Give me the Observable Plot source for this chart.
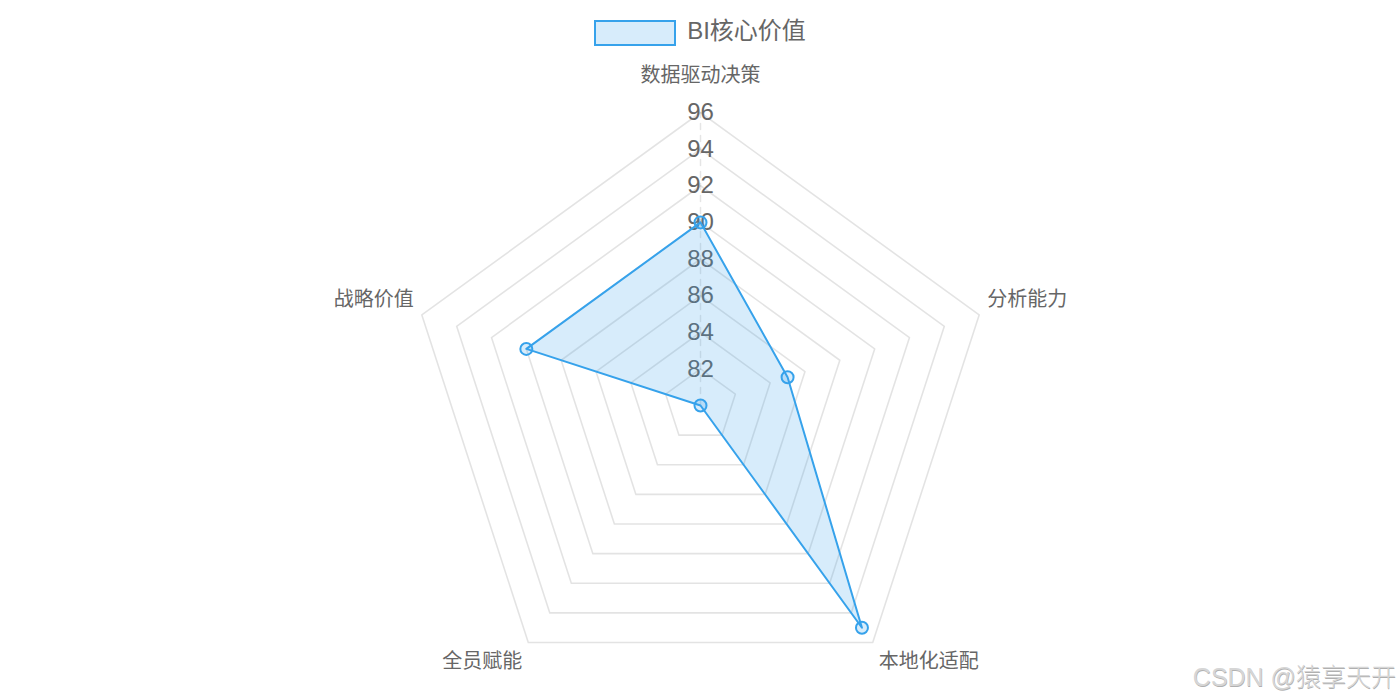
<!DOCTYPE html>
<html>
<head>
<meta charset="utf-8">
<script src="https://cdn.jsdelivr.net/npm/d3@7"></script>
<script src="https://cdn.jsdelivr.net/npm/@observablehq/plot@0.6"></script>
<style>
  html, body { margin: 0; padding: 0; background: #fff; }
  body { width: 1400px; height: 700px; position: relative; overflow: hidden;
         font-family: "Liberation Sans", Arial, "Noto Sans CJK SC", sans-serif; }
  #legend { height: 52px; display: flex; justify-content: center; align-items: flex-start; }
  #legend .box { width: 78px; height: 22px; margin-top: 20px; border: 2px solid rgb(54,162,235);
                 background: rgba(54,162,235,0.2); box-sizing: content-box; }
  #legend .lab { font-size: 24px; color: #666; margin-left: 11px; margin-top: 16px; line-height: 30px; }
  #wm { position: absolute; right: 4px; top: 657px; font-size: 25px; color: #d6d6d6;
        text-shadow: 0.5px 0.5px 0.5px #b0b0b0; font-weight: 300;
        font-family: "Liberation Sans", Arial, "Noto Sans CJK SC", sans-serif; }
</style>
</head>
<body>
<div id="legend"></div>
<div id="chart"></div>
<div id="wm"></div>
<script>
// ---- data ----
const seriesName = "BI核心价值";
const categories = ["数据驱动决策", "分析能力", "本地化适配", "全员赋能", "战略价值"];
const values = [90, 85, 95, 80, 90];
const ticks = [82, 84, 86, 88, 90, 92, 94, 96];
const scaleMin = 80, scaleMax = 96;
const watermark = "CSDN @猿享天开";

// ---- layout ----
const W = 1400, H = 648;
const R = 293, cx = 700, cy = 353;
const blue = "rgb(54,162,235)";
const fillBlue = "rgba(54,162,235,0.2)";
const n = categories.length;
const ang = i => (2 * Math.PI * i) / n;
const norm = v => (v - scaleMin) / (scaleMax - scaleMin);
const px = (v, i) => norm(v) * Math.sin(ang(i));
const py = (v, i) => -norm(v) * Math.cos(ang(i));

// rings
const rings = [];
for (const t of ticks) for (let i = 0; i < n; i++) rings.push({t, x: px(t, i), y: py(t, i)});
// data polygon
const pts = values.map((v, i) => ({cat: categories[i], v, x: px(v, i), y: py(v, i)}));
// tick labels
const tickRows = ticks.map(t => ({t, x: 0, y: -norm(t)}));
// point labels
const lab = categories.map((c, i) => ({c, i, x: px(scaleMax, i), y: py(scaleMax, i)}));
const spoke = [{x: 0, y: 0}, {x: 0, y: -1}];

const font = {fontSize: 20, fill: "#666", fontFamily: "'Liberation Sans', Arial, 'Noto Sans CJK SC', sans-serif"};

const plot = Plot.plot({
  width: W, height: H,
  margin: 0,
  x: {domain: [-cx / R, (W - cx) / R], range: [0, W], axis: null},
  y: {domain: [-cy / R, (H - cy) / R], range: [0, H], axis: null},
  style: {background: "transparent"},
  marks: [
    Plot.line(rings, {x: "x", y: "y", z: "t", curve: "linear-closed", stroke: "#000", strokeOpacity: 0.11, strokeWidth: 1.6}),
    Plot.line(spoke, {x: "x", y: "y", stroke: "#000", strokeOpacity: 0.1, strokeWidth: 1.5, strokeDasharray: "6,6"}),
    Plot.text(tickRows, {x: "x", y: "y", text: d => String(d.t), textAnchor: "middle", lineAnchor: "middle",
      fontSize: 24, fill: "#666", fontFamily: font.fontFamily}),
    Plot.line(pts, {x: "x", y: "y", curve: "linear-closed", fill: fillBlue, stroke: blue, strokeWidth: 2}),
    Plot.dot(pts, {x: "x", y: "y", r: 6, fill: fillBlue, stroke: blue, strokeWidth: 2}),
    // point labels
    Plot.text(lab.filter(d => d.i === 0), {x: "x", y: "y", text: "c", textAnchor: "middle", lineAnchor: "middle", dy: -37, ...font}),
    Plot.text(lab.filter(d => d.i === 1), {x: "x", y: "y", text: "c", textAnchor: "start", lineAnchor: "middle", dx: 8, dy: -15, ...font}),
    Plot.text(lab.filter(d => d.i === 4), {x: "x", y: "y", text: "c", textAnchor: "end", lineAnchor: "middle", dx: -8, dy: -15, ...font}),
    Plot.text(lab.filter(d => d.i === 2), {x: "x", y: "y", text: "c", textAnchor: "start", lineAnchor: "middle", dx: 6, dy: 19, ...font}),
    Plot.text(lab.filter(d => d.i === 3), {x: "x", y: "y", text: "c", textAnchor: "end", lineAnchor: "middle", dx: -6, dy: 19, ...font})
  ]
});
document.getElementById("chart").appendChild(plot);

// legend
const lg = document.getElementById("legend");
const box = document.createElement("div"); box.className = "box";
const lt = document.createElement("div"); lt.className = "lab"; lt.textContent = seriesName;
lg.appendChild(box); lg.appendChild(lt);
document.getElementById("wm").textContent = watermark;
</script>
</body>
</html>
